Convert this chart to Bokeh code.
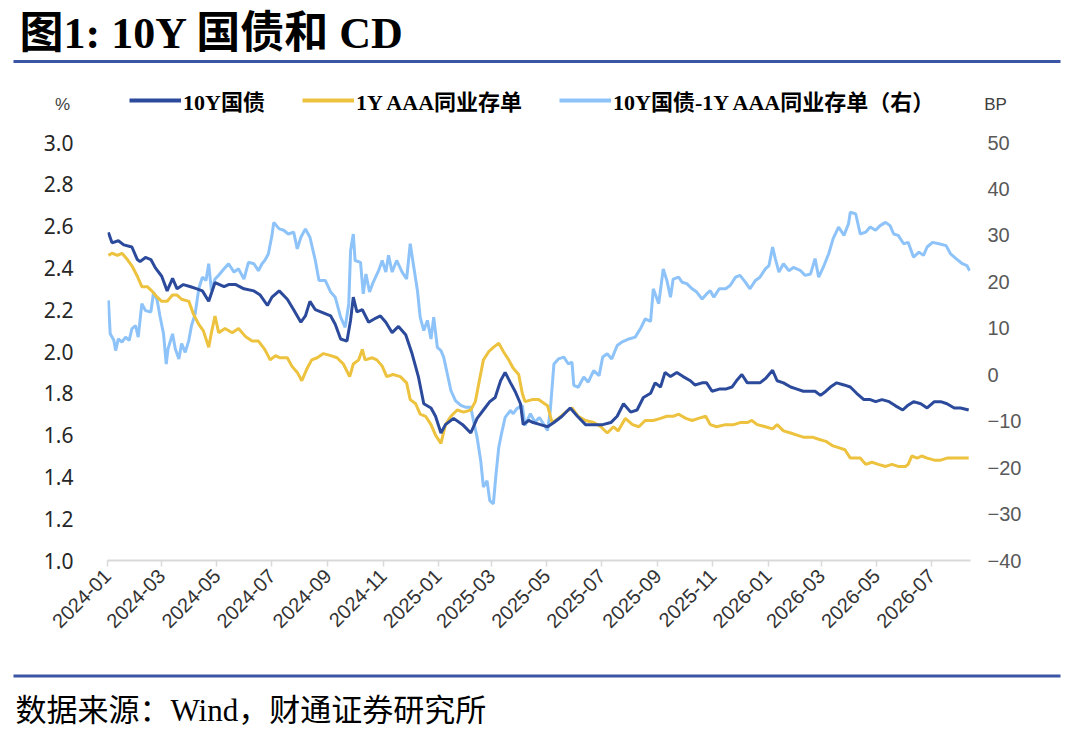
import pandas as pd
from math import pi
from bokeh.plotting import figure
from bokeh.layouts import column
from bokeh.models import (Range1d, LinearAxis, FixedTicker, PrintfTickFormatter,
                          CustomJSTickFormatter, DatetimeTickFormatter, Legend,
                          LegendItem, ColumnDataSource)
from bokeh.core.properties import value
from bokeh.embed import file_html
from bokeh.resources import INLINE

title_text = "图1: 10Y 国债和 CD"
source_text = "数据来源：Wind，财通证券研究所"
series_names = ["10Y国债", "1Y AAA同业存单", "10Y国债-1Y AAA同业存单（右）"]
left_unit = "%"
right_unit = "BP"

gov_dates = ["2024-01-02","2024-01-06","2024-01-13","2024-01-19","2024-01-28","2024-02-03","2024-02-06","2024-02-12","2024-02-18","2024-02-23",
    "2024-03-01","2024-03-07","2024-03-13","2024-03-18","2024-03-25","2024-04-02","2024-04-09","2024-04-15","2024-04-22","2024-04-29",
    "2024-05-09","2024-05-14","2024-05-22","2024-05-31","2024-06-11","2024-06-18","2024-06-26","2024-07-01","2024-07-09","2024-07-18",
    "2024-07-25","2024-08-02","2024-08-07","2024-08-12","2024-08-18","2024-08-24","2024-09-04","2024-09-09","2024-09-15","2024-09-22",
    "2024-09-26","2024-09-29","2024-10-03","2024-10-09","2024-10-16","2024-10-24","2024-10-29","2024-11-04","2024-11-11","2024-11-18",
    "2024-11-26","2024-12-03","2024-12-10","2024-12-16","2024-12-24","2024-12-29","2025-01-04","2025-01-09","2025-01-18","2025-01-28",
    "2025-02-06","2025-02-13","2025-02-20","2025-02-27","2025-03-05","2025-03-11","2025-03-16","2025-03-22","2025-03-27","2025-04-02",
    "2025-04-05","2025-04-11","2025-04-16","2025-04-24","2025-05-02","2025-05-09","2025-05-18","2025-05-27","2025-06-04","2025-06-13",
    "2025-06-22","2025-07-02","2025-07-11","2025-07-18","2025-07-25","2025-08-02","2025-08-09","2025-08-16","2025-08-24","2025-08-29",
    "2025-09-04","2025-09-09","2025-09-15","2025-09-22","2025-09-29","2025-10-07","2025-10-12","2025-10-20","2025-10-25","2025-10-31",
    "2025-11-08","2025-11-15","2025-11-22","2025-11-27","2025-12-03","2025-12-09","2025-12-16","2025-12-23","2025-12-29","2026-01-06",
    "2026-01-11","2026-01-18","2026-01-26","2026-02-02","2026-02-09","2026-02-17","2026-02-22","2026-02-28","2026-03-06","2026-03-11",
    "2026-03-18","2026-03-26","2026-04-02","2026-04-09","2026-04-17","2026-04-24","2026-04-30","2026-05-07","2026-05-15","2026-05-22",
    "2026-05-30","2026-06-04","2026-06-11","2026-06-19","2026-06-26","2026-07-04","2026-07-11","2026-07-18","2026-07-26","2026-08-02",
    "2026-08-11"]
gov_vals = [2.57,2.52,2.53,2.51,2.50,2.44,2.43,2.45,2.44,2.40,
    2.36,2.29,2.35,2.30,2.32,2.31,2.30,2.29,2.24,2.33,
    2.31,2.32,2.32,2.30,2.29,2.27,2.22,2.26,2.29,2.25,
    2.20,2.14,2.17,2.24,2.20,2.19,2.17,2.13,2.06,2.05,
    2.15,2.26,2.19,2.20,2.14,2.16,2.17,2.14,2.09,2.12,
    2.08,1.99,1.88,1.75,1.73,1.69,1.61,1.65,1.68,1.65,
    1.61,1.68,1.72,1.76,1.78,1.86,1.90,1.85,1.81,1.75,
    1.65,1.67,1.66,1.65,1.64,1.66,1.69,1.73,1.69,1.65,
    1.65,1.65,1.66,1.69,1.75,1.71,1.72,1.78,1.80,1.85,
    1.83,1.90,1.88,1.90,1.88,1.86,1.84,1.85,1.85,1.81,
    1.82,1.82,1.83,1.86,1.89,1.85,1.85,1.85,1.87,1.91,
    1.86,1.85,1.83,1.82,1.81,1.81,1.81,1.79,1.81,1.83,
    1.85,1.84,1.83,1.80,1.77,1.77,1.76,1.77,1.76,1.74,
    1.72,1.74,1.76,1.75,1.73,1.76,1.76,1.75,1.73,1.73,
    1.72]

cd_dates = ["2024-01-02","2024-01-06","2024-01-12","2024-01-17","2024-01-23","2024-01-28","2024-02-03","2024-02-08","2024-02-14","2024-02-19",
    "2024-02-25","2024-03-01","2024-03-07","2024-03-13","2024-03-18","2024-03-23","2024-03-31","2024-04-05","2024-04-11","2024-04-16",
    "2024-04-22","2024-04-25","2024-04-29","2024-05-03","2024-05-10","2024-05-18","2024-05-25","2024-06-02","2024-06-09","2024-06-16",
    "2024-06-23","2024-06-29","2024-07-05","2024-07-10","2024-07-18","2024-07-23","2024-07-29","2024-08-03","2024-08-09","2024-08-14",
    "2024-08-20","2024-08-27","2024-09-04","2024-09-11","2024-09-18","2024-09-25","2024-09-29","2024-10-05","2024-10-09","2024-10-12",
    "2024-10-20","2024-10-25","2024-10-31","2024-11-05","2024-11-12","2024-11-20","2024-11-27","2024-12-01","2024-12-07","2024-12-12",
    "2024-12-18","2024-12-24","2024-12-29","2025-01-04","2025-01-09","2025-01-15","2025-01-22","2025-01-29","2025-02-06","2025-02-11",
    "2025-02-15","2025-02-20","2025-02-26","2025-03-03","2025-03-09","2025-03-14","2025-03-20","2025-03-25","2025-03-31","2025-04-04",
    "2025-04-07","2025-04-15","2025-04-22","2025-05-02","2025-05-07","2025-05-14","2025-05-22","2025-05-29","2025-06-05","2025-06-13",
    "2025-06-22","2025-06-30","2025-07-07","2025-07-14","2025-07-19","2025-07-27","2025-08-04","2025-08-11","2025-08-18","2025-08-27",
    "2025-09-04","2025-09-11","2025-09-18","2025-09-24","2025-10-02","2025-10-09","2025-10-16","2025-10-24","2025-10-29","2025-11-05",
    "2025-11-15","2025-11-24","2025-12-01","2025-12-09","2025-12-14","2025-12-20","2025-12-29","2026-01-06","2026-01-11","2026-01-18",
    "2026-01-26","2026-02-02","2026-02-09","2026-02-19","2026-02-26","2026-03-06","2026-03-13","2026-03-20","2026-03-27","2026-04-02",
    "2026-04-08","2026-04-13","2026-04-19","2026-04-26","2026-05-03","2026-05-11","2026-05-18","2026-05-25","2026-06-02","2026-06-05",
    "2026-06-09","2026-06-15","2026-06-20","2026-06-26","2026-07-04","2026-07-11","2026-07-18","2026-07-26","2026-08-02","2026-08-11"]
cd_vals = [2.46,2.47,2.46,2.47,2.44,2.41,2.36,2.31,2.31,2.29,
    2.26,2.24,2.24,2.27,2.27,2.25,2.24,2.18,2.13,2.10,
    2.02,2.09,2.17,2.09,2.11,2.09,2.11,2.07,2.05,2.05,
    2.01,1.96,1.98,1.97,1.97,1.93,1.90,1.86,1.92,1.96,
    1.97,1.99,1.98,1.97,1.94,1.88,1.94,1.96,2.01,1.96,
    1.97,1.96,1.93,1.88,1.89,1.88,1.85,1.77,1.75,1.70,
    1.69,1.65,1.60,1.56,1.65,1.69,1.72,1.71,1.72,1.76,
    1.85,1.96,2.00,2.02,2.04,2.00,1.96,1.92,1.89,1.80,
    1.76,1.77,1.77,1.74,1.66,1.68,1.71,1.73,1.69,1.67,
    1.66,1.64,1.61,1.64,1.62,1.68,1.65,1.64,1.67,1.67,
    1.68,1.69,1.69,1.70,1.68,1.67,1.68,1.69,1.65,1.64,
    1.65,1.65,1.66,1.66,1.67,1.65,1.64,1.63,1.65,1.62,
    1.61,1.60,1.59,1.59,1.58,1.57,1.55,1.54,1.53,1.49,
    1.49,1.49,1.46,1.47,1.46,1.45,1.46,1.45,1.45,1.46,
    1.50,1.49,1.50,1.49,1.48,1.48,1.49,1.49,1.49,1.49]

spread_dates = ["2024-01-02","2024-01-04","2024-01-08","2024-01-10","2024-01-13","2024-01-17","2024-01-21","2024-01-25","2024-01-28","2024-02-01",
    "2024-02-04","2024-02-08","2024-02-12","2024-02-18","2024-02-21","2024-02-25","2024-02-28","2024-03-03","2024-03-06","2024-03-08",
    "2024-03-13","2024-03-16","2024-03-20","2024-03-23","2024-03-27","2024-03-31","2024-04-03","2024-04-07","2024-04-11","2024-04-15",
    "2024-04-19","2024-04-22","2024-04-25","2024-04-29","2024-05-03","2024-05-09","2024-05-14","2024-05-20","2024-05-25","2024-05-31",
    "2024-06-05","2024-06-11","2024-06-16","2024-06-20","2024-06-23","2024-06-27","2024-07-01","2024-07-03","2024-07-09","2024-07-14",
    "2024-07-19","2024-07-25","2024-07-29","2024-08-02","2024-08-07","2024-08-12","2024-08-18","2024-08-22","2024-08-24","2024-08-29",
    "2024-09-04","2024-09-09","2024-09-15","2024-09-20","2024-09-24","2024-09-26","2024-09-29","2024-10-01","2024-10-07","2024-10-10",
    "2024-10-13","2024-10-17","2024-10-21","2024-10-27","2024-10-31","2024-11-04","2024-11-07","2024-11-11","2024-11-16","2024-11-22",
    "2024-11-27","2024-12-01","2024-12-05","2024-12-09","2024-12-12","2024-12-16","2024-12-20","2024-12-24","2024-12-27","2024-12-31",
    "2025-01-04","2025-01-07","2025-01-11","2025-01-15","2025-01-20","2025-01-26","2025-01-31","2025-02-06","2025-02-09","2025-02-13",
    "2025-02-17","2025-02-20","2025-02-24","2025-02-27","2025-03-03","2025-03-06","2025-03-09","2025-03-12","2025-03-16","2025-03-22",
    "2025-03-25","2025-03-29","2025-04-04","2025-04-07","2025-04-13","2025-04-18","2025-04-23","2025-05-02","2025-05-05","2025-05-09",
    "2025-05-14","2025-05-20","2025-05-25","2025-05-29","2025-05-31","2025-06-05","2025-06-11","2025-06-16","2025-06-22","2025-06-28",
    "2025-07-02","2025-07-07","2025-07-12","2025-07-18","2025-07-23","2025-07-31","2025-08-07","2025-08-13","2025-08-18","2025-08-24",
    "2025-08-27","2025-09-02","2025-09-07","2025-09-11","2025-09-15","2025-09-18","2025-09-24","2025-09-28","2025-10-03","2025-10-09",
    "2025-10-14","2025-10-20","2025-10-25","2025-10-29","2025-11-02","2025-11-08","2025-11-15","2025-11-20","2025-11-26","2025-12-01",
    "2025-12-07","2025-12-12","2025-12-18","2025-12-23","2025-12-29","2026-01-02","2026-01-06","2026-01-09","2026-01-13","2026-01-18",
    "2026-01-24","2026-01-29","2026-02-06","2026-02-11","2026-02-17","2026-02-22","2026-02-26","2026-03-03","2026-03-09","2026-03-14",
    "2026-03-20","2026-03-26","2026-03-31","2026-04-02","2026-04-08","2026-04-13","2026-04-19","2026-04-24","2026-04-30","2026-05-05",
    "2026-05-11","2026-05-16","2026-05-20","2026-05-25","2026-05-31","2026-06-05","2026-06-11","2026-06-17","2026-06-22","2026-06-26",
    "2026-07-02","2026-07-09","2026-07-17","2026-07-22","2026-07-28","2026-08-04","2026-08-09","2026-08-12"]
spread_vals = [16.0,8.8,7.4,5.2,7.7,7.0,8.1,7.4,9.9,10.6,
    8.1,15.3,13.8,13.5,17.8,16.0,12.7,8.8,2.3,5.6,
    8.8,5.6,3.4,6.7,4.8,7.4,10.6,13.1,18.5,21.0,
    20.3,23.9,18.1,20.6,21.4,22.8,23.9,22.1,22.8,20.6,
    24.2,23.9,22.4,23.9,24.6,26.0,30.0,32.8,31.4,31.1,
    30.3,30.7,27.1,29.6,31.4,29.6,24.6,20.3,20.3,20.3,
    17.8,16.7,12.4,10.2,15.3,26.7,30.3,24.6,24.2,17.4,
    21.7,17.8,19.9,22.4,24.6,22.1,25.7,22.1,24.6,22.1,
    20.6,28.2,23.1,18.1,12.4,9.5,11.7,7.7,12.4,5.9,
    5.2,3.8,0.2,-3.4,-5.6,-6.6,-7.0,-7.0,-9.9,-13.5,
    -18.5,-24.2,-22.8,-27.1,-27.8,-21.3,-15.6,-12.7,-9.2,-7.7,
    -8.4,-7.3,-6.6,-10.9,-8.4,-10.2,-9.2,-12.0,-7.7,2.3,
    3.4,3.8,2.3,2.7,-2.3,-2.7,-0.5,-1.6,0.9,-0.2,
    3.8,4.5,3.4,6.3,7.0,7.7,8.1,10.0,12.0,11.5,
    18.5,15.3,22.8,20.3,16.7,20.6,21.0,19.9,19.6,18.5,
    17.8,16.3,17.4,18.1,16.7,18.5,18.5,19.2,21.0,21.4,
    19.9,18.5,20.3,21.0,22.8,23.5,27.5,25.0,22.1,23.9,
    22.4,23.1,22.4,21.4,21.7,25.0,21.0,23.1,26.0,29.3,
    31.8,30.0,32.5,35.0,34.6,30.3,30.7,31.8,31.1,32.1,
    32.8,32.1,30.3,30.0,28.2,28.5,25.3,26.4,25.7,27.5,
    28.5,28.2,27.8,26.0,25.0,23.9,23.5,22.4]

x_tick_labels = ["2024-01","2024-03","2024-05","2024-07","2024-09","2024-11",
                 "2025-01","2025-03","2025-05","2025-07","2025-09","2025-11",
                 "2026-01","2026-03","2026-05","2026-07"]
left_ticks = [1.0, 1.2, 1.4, 1.6, 1.8, 2.0, 2.2, 2.4, 2.6, 2.8, 3.0]
right_ticks = [-40, -30, -20, -10, 0, 10, 20, 30, 40, 50]
x_start, x_end = "2024-01-01", "2026-08-13"

C_GOV = "#2B4A9B"
C_CD = "#EDC23E"
C_SPR = "#8DC3F8"
C_RULE = "#3A55A4"
SERIF = "'Liberation Serif', 'Noto Sans CJK SC', serif"
SANS = "'Liberation Sans', 'Noto Sans CJK SC', sans-serif"
W = 1072

def ms(s):
    return pd.Timestamp(s).timestamp() * 1000.0

def blank(fig):
    fig.outline_line_color = None
    fig.grid.visible = False
    fig.background_fill_color = "white"
    fig.border_fill_color = "white"
    fig.frame_align = False

# ---------------- header: title, rule, legend ----------------
HH = 122
hdr = figure(width=W, height=HH, x_range=Range1d(0, W), y_range=Range1d(HH, 0),
             min_border=0, x_axis_location=None, y_axis_location=None,
             output_backend="svg", toolbar_location=None)
blank(hdr)
hdr.text(x=[19], y=[33], text=[title_text], text_font=value(SERIF),
         text_font_style="bold", text_font_size="44px", text_baseline="middle",
         text_align="left", text_color="#000000")
hdr.quad(left=[13], right=[1060], top=[59.5], bottom=[62.5], fill_color=C_RULE, line_color=None)
hdr.text(x=[62], y=[104], text=[left_unit], text_font=value(SANS), text_font_size="17px",
         text_baseline="middle", text_align="center", text_color="#404040")
hdr.text(x=[995], y=[104], text=[right_unit], text_font=value(SANS), text_font_size="17px",
         text_baseline="middle", text_align="center", text_color="#404040")

leg_colors = [C_GOV, C_CD, C_SPR]
leg_x = [129, 302, 559]
for name, col, lx in zip(series_names, leg_colors, leg_x):
    # swatch renderer kept outside the visible range; only its legend entry shows
    dummy = hdr.line(x=[-50, -40], y=[-50, -50], color=col, line_width=4)
    lg = Legend(items=[LegendItem(label=name, renderers=[dummy])], location=(lx, HH - 116),
                orientation="horizontal", padding=0, margin=0, spacing=0,
                glyph_width=52, glyph_height=20, label_standoff=2, label_height=20,
                label_text_font=SERIF, label_text_font_style="bold",
                label_text_font_size="22px", label_text_color="#000000",
                border_line_alpha=0, background_fill_alpha=0)
    hdr.add_layout(lg, "center")

# ---------------- main chart ----------------
MH = 542   # page y 122 .. 664 ; frame 142 .. 560
p = figure(width=W, height=MH, x_axis_type="datetime", output_backend="svg",
           toolbar_location=None, min_border_left=107, min_border_right=W - 107 - 863,
           min_border_top=20, min_border_bottom=MH - 20 - 418,
           x_range=Range1d(ms(x_start), ms(x_end)), y_range=Range1d(1.0, 3.0))
blank(p)
p.extra_y_ranges = {"bp": Range1d(-40, 50)}

src_gov = ColumnDataSource(dict(x=pd.to_datetime(gov_dates), y=gov_vals))
src_cd = ColumnDataSource(dict(x=pd.to_datetime(cd_dates), y=cd_vals))
src_spr = ColumnDataSource(dict(x=pd.to_datetime(spread_dates), y=spread_vals))

p.line("x", "y", source=src_spr, color=C_SPR, line_width=3, y_range_name="bp")
p.line("x", "y", source=src_cd, color=C_CD, line_width=3)
p.line("x", "y", source=src_gov, color=C_GOV, line_width=3)

xa = p.xaxis[0]
xa.ticker = FixedTicker(ticks=[ms(t + "-01") for t in x_tick_labels])
xa.formatter = DatetimeTickFormatter(months="%Y-%m", days="%Y-%m", years="%Y-%m")
xa.axis_line_color = "#D9D9D9"
xa.axis_line_width = 2
xa.major_tick_line_color = "#D9D9D9"
xa.major_tick_line_width = 1.5
xa.major_tick_in = 0
xa.major_tick_out = 6
xa.minor_tick_line_color = None
xa.major_label_orientation = pi / 4
xa.major_label_text_font = SANS
xa.major_label_text_font_size = "20px"
xa.major_label_text_color = "#333333"
xa.major_label_standoff = 6

ya = p.yaxis[0]
ya.ticker = FixedTicker(ticks=left_ticks)
ya.formatter = PrintfTickFormatter(format="%.1f")
ya.axis_line_color = None
ya.major_tick_line_color = None
ya.minor_tick_line_color = None
ya.major_label_text_font = "'Noto Sans', sans-serif"
ya.major_label_text_font_size = "21px"
ya.major_label_text_color = "#262626"
ya.major_label_standoff = 28

ra = LinearAxis(y_range_name="bp", ticker=FixedTicker(ticks=right_ticks),
                formatter=CustomJSTickFormatter(code="return tick < 0 ? '\u2212' + Math.abs(tick) : String(tick);"))
ra.axis_line_color = None
ra.major_tick_line_color = None
ra.minor_tick_line_color = None
ra.major_label_text_font = SANS
ra.major_label_text_font_size = "20px"
ra.major_label_text_color = "#595959"
ra.major_label_standoff = 11
p.add_layout(ra, "right")

# ---------------- footer: rule and source ----------------
FH = 64    # page y 664 .. 728
ftr = figure(width=W, height=FH, x_range=Range1d(0, W), y_range=Range1d(FH, 0),
             min_border=0, x_axis_location=None, y_axis_location=None,
             output_backend="svg", toolbar_location=None)
blank(ftr)
ftr.quad(left=[13], right=[1060], top=[10], bottom=[13], fill_color=C_RULE, line_color=None)
ftr.text(x=[15], y=[46], text=[source_text], text_font=value(SERIF), text_font_size="31px",
         text_baseline="middle", text_align="left", text_color="#000000")

layout = column(hdr, p, ftr, spacing=0)
open("out.html", "w").write(file_html(layout, INLINE))
